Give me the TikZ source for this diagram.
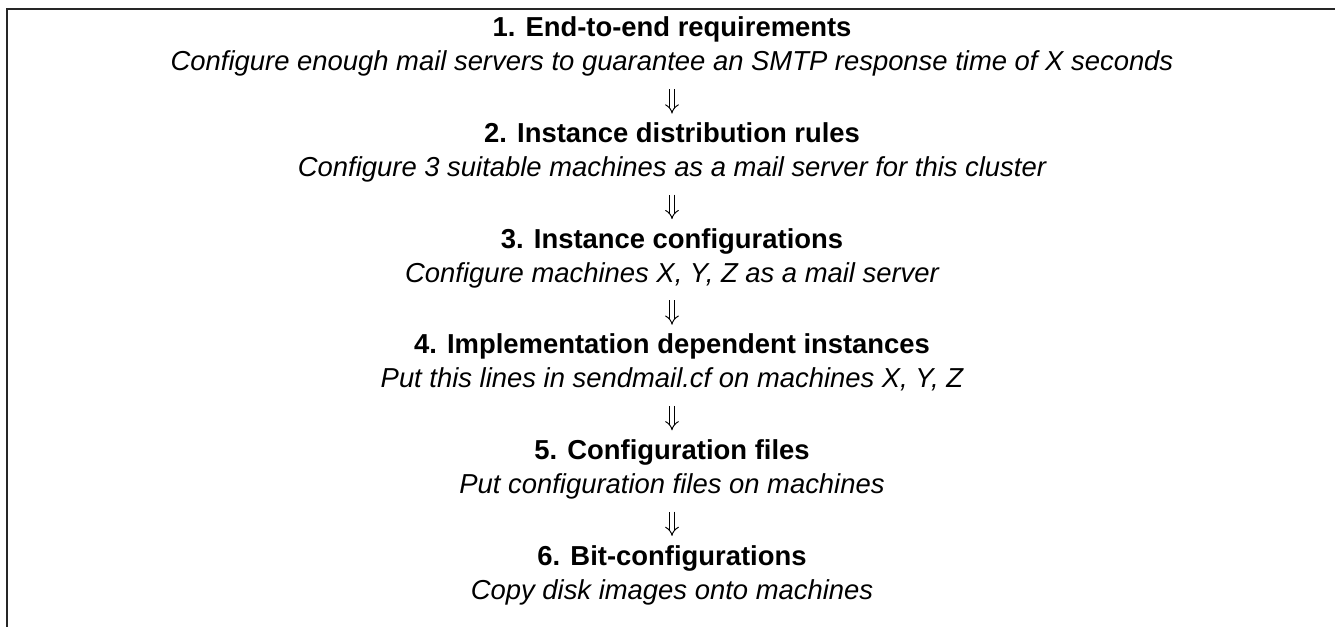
\documentclass[tikz,border=0pt]{standalone}
\usepackage{fontspec}
\setmainfont{Liberation Sans}
\usetikzlibrary{arrows.meta}
\tikzset{>={Implies[length=4.5pt, width=10pt]}}
\tikzset{
  level/.style={anchor=base, inner sep=0pt, text height=11.5pt, text depth=3.3pt,
    font=\fontsize{15.6}{18}\selectfont\bfseries},
  example/.style={anchor=base, inner sep=0pt, text height=11.5pt, text depth=3.3pt,
    font=\fontsize{15.6}{18}\selectfont\itshape},
  refine/.style={->, double, double distance=2.2pt, line width=0.55pt,
    shorten <=0.24cm, shorten >=0.17cm},
  frame/.style={line width=1.1pt, black!85}
}

\begin{document}
\begin{tikzpicture}
	\useasboundingbox (0, 0) rectangle (26.7, -12.54);
	\draw[frame](0.14, -12.54)--(0.14, -0.18)--(26.7, -0.18);
	% 1. end-to-end
	\node[level](h1) at (13.44, -0.74) {1. End-to-end requirements};
	\node[example](e1) at (13.44, -1.42) {Configure enough mail servers to guarantee an SMTP response time of X seconds};
	% 2. distribution rules
	\node[level](h2) at (13.44, -2.852) {2. Instance distribution rules};
	\node[example](e2) at (13.44, -3.532) {Configure 3 suitable machines as a mail server for this cluster};
	% 3. instance configurations
	\node[level](h3) at (13.44, -4.964) {3. Instance configurations};
	\node[example](e3) at (13.44, -5.644) {Configure machines X, Y, Z as a mail server};
	% 4. implementation dependent
	\node[level](h4) at (13.44, -7.076) {4. Implementation dependent instances};
	\node[example](e4) at (13.44, -7.756) {Put this lines in sendmail.cf on machines X, Y, Z};
	% 5. configuration files
	\node[level](h5) at (13.44, -9.188) {5. Configuration files};
	\node[example](e5) at (13.44, -9.868) {Put configuration files on machines};
	% 6. bit-configurations
	\node[level](h6) at (13.44, -11.30) {6. Bit-configurations};
	\node[example](e6) at (13.44, -11.98) {Copy disk images onto machines};
	% refinement steps
	\draw[refine](e1.south)--(h2.north);
	\draw[refine](e2.south)--(h3.north);
	\draw[refine](e3.south)--(h4.north);
	\draw[refine](e4.south)--(h5.north);
	\draw[refine](e5.south)--(h6.north);
\end{tikzpicture}
\end{document}
